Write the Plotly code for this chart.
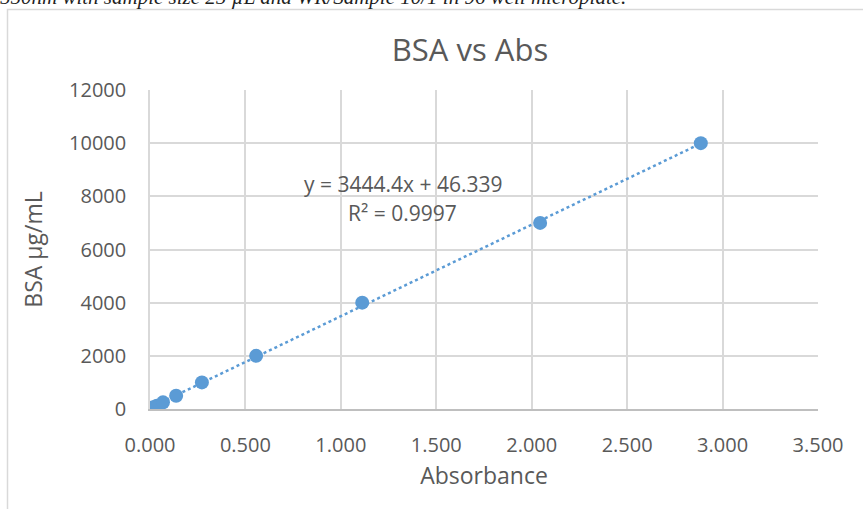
import plotly.graph_objects as go
import numpy as np

absorbance = [0.000, 0.017, 0.036, 0.068, 0.137, 0.272, 0.556, 1.112, 2.044, 2.886]
bsa = [0, 62.5, 125, 250, 500, 1000, 2000, 4000, 7000, 10000]
slope, intercept = 3444.4, 46.339
r2 = 0.9997
x_ticks = [0, 0.5, 1.0, 1.5, 2.0, 2.5, 3.0, 3.5]
y_ticks = [0, 2000, 4000, 6000, 8000, 10000, 12000]
caption = "550nm with sample size 25 µL and WR/Sample 10/1 in 96 well microplate."

W, H = 863, 509
L, R, T, B = 150, 45, 90, 100
pw, ph = W - L - R, H - T - B

blue = "#5B9BD5"
grid = "#d9d9d9"
txt = "#595959"
font = "Open Sans"

tx = np.array([min(absorbance), max(absorbance)])
fig = go.Figure()
fig.add_trace(go.Scatter(x=tx, y=slope * tx + intercept, mode="lines",
                         line=dict(color=blue, width=2.5, dash="dot"), hoverinfo="skip"))
fig.add_trace(go.Scatter(x=absorbance, y=bsa, mode="markers",
                         marker=dict(color=blue, size=14)))

def px2paper_x(p):
    return (p - L) / pw

def px2paper_y(p):
    return (H - B - p) / ph

fig.add_shape(type="rect", xref="paper", yref="paper",
              x0=px2paper_x(7.5), x1=px2paper_x(880), y0=px2paper_y(520), y1=px2paper_y(9.5),
              line=dict(color=grid, width=1.5), layer="below")

fig.add_annotation(xref="paper", yref="paper", x=px2paper_x(-2), y=px2paper_y(11),
                   xanchor="left", yanchor="bottom", showarrow=False,
                   text=f"<i>{caption}</i>",
                   font=dict(family="Liberation Serif", size=21, color="#1f1f1f"))
fig.add_annotation(xref="paper", yref="paper", x=px2paper_x(403), y=px2paper_y(184),
                   xanchor="center", yanchor="middle",
                   showarrow=False, text=f"y = {slope}x + {intercept}",
                   font=dict(family=font, size=21, color=txt))
fig.add_annotation(xref="paper", yref="paper", x=px2paper_x(402), y=px2paper_y(213),
                   xanchor="center", yanchor="middle",
                   showarrow=False, text=f"R² = {r2}",
                   font=dict(family=font, size=21, color=txt))

fig.update_layout(
    width=W, height=H, margin=dict(l=L, r=R, t=T, b=B),
    paper_bgcolor="white", plot_bgcolor="white", showlegend=False,
    title=dict(text="BSA vs Abs", x=(470) / W, xanchor="center", y=1 - 50 / H, yanchor="middle",
               font=dict(family=font, size=31, color=txt)),
    font=dict(family=font, color=txt),
)
fig.update_xaxes(range=[0, 3.5], tickvals=x_ticks, ticktext=[f"{v:.3f}" for v in x_ticks],
                 showgrid=True, gridcolor=grid, gridwidth=1.5, zeroline=False,
                 showline=True, linecolor="#bfbfbf", linewidth=1.5,
                 ticks="outside", ticklen=17, tickcolor="rgba(0,0,0,0)",
                 tickfont=dict(family=font, size=20, color=txt),
                 title=dict(text="Absorbance", standoff=11, font=dict(family=font, size=23, color=txt)))
fig.update_yaxes(range=[0, 12000], tickvals=y_ticks, ticktext=[str(v) for v in y_ticks],
                 showgrid=True, gridcolor=grid, gridwidth=1.5, zeroline=False,
                 showline=True, linecolor=grid, linewidth=1.5,
                 ticks="outside", ticklen=18, tickcolor="rgba(0,0,0,0)",
                 tickfont=dict(family=font, size=20, color=txt),
                 title=dict(text="BSA µg/mL", standoff=20, font=dict(family=font, size=23, color=txt)))

fig.write_html("out.html", config={"displayModeBar": False},
               post_script="document.body.style.margin='0';document.body.style.overflow='hidden';")
